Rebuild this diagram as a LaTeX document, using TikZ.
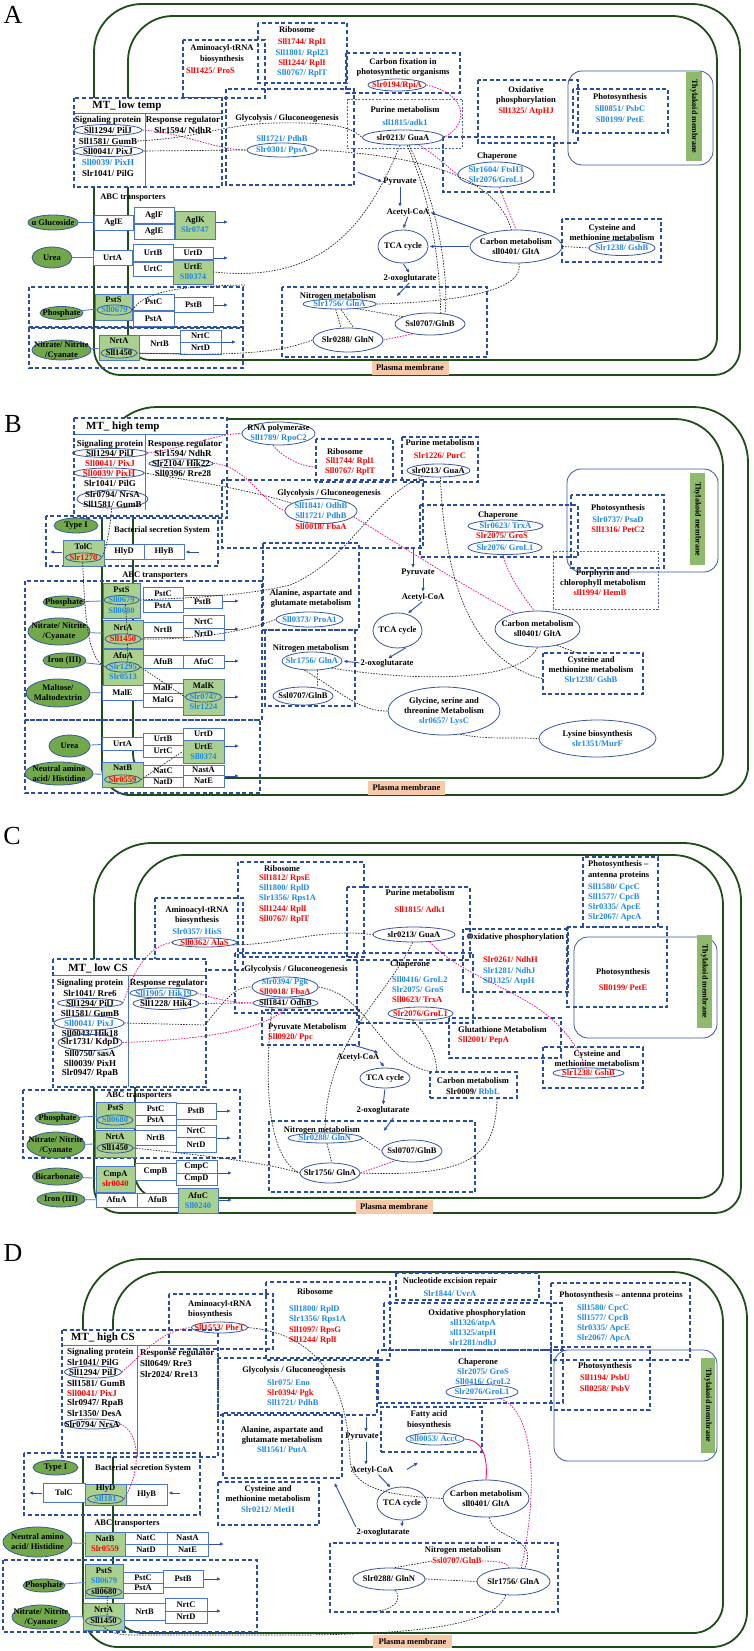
\documentclass[tikz,border=0pt]{standalone}
\usepackage{fontspec}
\setmainfont{Liberation Serif}
\usetikzlibrary{shapes.geometric,arrows.meta,calc}
\definecolor{dblue}{HTML}{2C4E9E}
\definecolor{tblue}{HTML}{4A78C4}
\definecolor{eblue}{HTML}{3A589C}
\definecolor{btxt}{HTML}{1E88E5}
\definecolor{rtxt}{HTML}{FF0000}
\definecolor{memg}{HTML}{1F4D1A}
\definecolor{ellg}{HTML}{70A84A}
\definecolor{boxg}{HTML}{A9D08E}
\definecolor{pinkc}{HTML}{E4198C}
\definecolor{peach}{HTML}{F8C9A8}
\definecolor{thyg}{HTML}{8DBA6C}
\definecolor{ablue}{HTML}{2F4FA8}
\newcommand\fsz{\bfseries\fontsize{8.5}{10}\selectfont}
\newcommand\fszL{\bfseries\fontsize{9}{10}\selectfont}
\newcommand\Bl[1]{\textcolor{btxt}{#1}}
\newcommand\Rd[1]{\textcolor{rtxt}{#1}}
\newcounter{nc}
\newcommand\T[3][]{\stepcounter{nc}\node[tx,#1] (t\arabic{nc}) at (#2) {#3};}
\newcommand\El[6][el]{\node[#1,minimum width=#4,minimum height=#5] (#2) at (#3) {};\node[tx] (#2t) at (#3) {#6};}
\newcommand\Bx[6][tb]{\node[#1,minimum width=#4,minimum height=#5] (#2) at (#3) {#6};}
\tikzset{
 tx/.style={font=\fsz, inner sep=0pt, text=black, align=center},
 db/.style={draw=dblue, line width=1.3pt, dash pattern=on 4pt off 2.6pt},
 dbt/.style={draw=dblue!85, line width=0.8pt, dash pattern=on 2pt off 1.5pt},
 mtb/.style={db, fill=white},
 tb/.style={draw=tblue, fill=white, line width=0.8pt, inner sep=0pt, font=\fsz, align=center},
 gb/.style={tb, fill=boxg},
 el/.style={ellipse, draw=eblue, line width=0.8pt, inner sep=0pt},
 ge/.style={el, fill=ellg},
 mem/.style={draw=memg, line width=1.8pt},
 bd/.style={draw=black!85, line width=0.7pt, dash pattern=on 1.5pt off 1.3pt},
 pd/.style={draw=pinkc, line width=0.8pt, dash pattern=on 1.5pt off 1.3pt},
 ar/.style={draw=ablue, line width=0.9pt, -{Latex[length=4pt,width=3.5pt]}, shorten >=1pt, shorten <=1pt},
 pmb/.style={fill=peach, inner sep=0pt, minimum width=77, minimum height=14, font=\fsz},
 thy/.style={draw=eblue, line width=0.8pt, rounded corners=14},
 tbar/.style={fill=thyg, inner sep=0pt, rotate=-90, font=\bfseries\fontsize{8}{9}\selectfont},
 lnk/.style={draw=tblue, line width=0.8pt},
 ttl/.style={font=\bfseries\fontsize{11}{12}\selectfont, inner sep=0pt},
 plet/.style={font=\fontsize{26}{26}\selectfont, inner sep=0pt},
 mtsep/.style={draw=tblue, line width=0.8pt},
 big/.style={tx/.append style={font=\fszL}},
}
\begin{document}
\begin{tikzpicture}[x=1pt,y=-1pt]
\fill[white] (0,0) rectangle (754,1651);
\useasboundingbox (0,0) rectangle (754,1651);

%%%%%%%%%%%%%%%% PANEL A %%%%%%%%%%%%%%%%
\node[plet] (LA) at (13,15) {A};
\draw[mem, rounded corners=48] (94,200) |- (740,4) -- (740,200);
\draw[mem, rounded corners=26] (94,200) |- (740,375) -- (740,200);
\draw[mem, rounded corners=45] (128,200) |- (717,16) -- (717,200);
\draw[mem, rounded corners=22] (128,200) |- (717,360) -- (717,200);
\node[pmb] (pmA) at (410,368) {Plasma membrane};
\draw[thy] (568,71) rectangle (713,165);
\node[tbar, minimum width=89, minimum height=16] (thA) at (694,116.5) {Thylakoid membrane};
\draw[db] (573,89) rectangle (668,133);
\T{620,97}{Photosynthesis}
\T{620,109}{\Bl{Sll0851/ PsbC}}
\T{620,120}{\Bl{Sll0199/ PetE}}
\draw[db] (478,80) rectangle (578,143);
\T{526,90}{Oxidative}
\T{526,100}{phosphorylation}
\T{526,111}{\Rd{Sll1325/ AtpHJ}}
\draw[db] (443,137) rectangle (554,192);
\T{497,156}{Chaperone}
\El{aChap}{496,174.5}{76}{25}{\Bl{Slr1604/ FtsH3}\\\Bl{Slr2076/GroL1}}
\El{aCarb}{516,246.5}{92}{33}{Carbon metabolism\\sll0401/ GltA}
\draw[db] (562,219) rectangle (661,262);
\T{612,228}{Cysteine and}
\T{612,238}{methionine metabolism}
\El{aGshB}{622,248}{66}{15}{\Bl{Slr1238/ GshB}}
\draw[db] (346,53) rectangle (460,93);
\T{403,62}{Carbon fixation in}
\T{403,72}{photosynthetic organisms}
\El{aRpiA}{397,85}{58}{12}{\Rd{Slr0194/RpiA}}
\draw[db] (258,23) rectangle (347,83);
\T{297,30}{Ribosome}
\T{302,42}{\Rd{Sll1744/ Rpl1}}
\T{302,53}{\Bl{Sll1801/ Rpl23}}
\T{302,63}{\Rd{Sll1244/ RplI}}
\T{302,73}{\Bl{Sll0767/ RplT}}
\draw[db] (183,40) rectangle (265,98);
\T{222,48}{Aminoacyl-tRNA}
\T{222,59}{biosynthesis}
\T[anchor=west]{186,71}{\Rd{Sll1425/ ProS}}
\draw[db] (226,89) rectangle (354,185);
\T{287,118}{Glycolysis / Gluconeogenesis}
\T{282,139}{\Bl{Sll1721/ PdhB}}
\El{aPpsA}{282,150}{70}{14}{\Bl{Slr0301/ PpsA}}
\draw[dbt] (347,99) rectangle (462,148);
\T{405,110}{Purine metabolism}
\T{405,123}{\Bl{sll1815/adk1}}
\El{aGuaA}{403,137.5}{81}{15}{slr0213/ GuaA}
% MT box
\draw[mtb] (74,98) rectangle (222,187);
\node[ttl] (aMT) at (127,106) {MT\_ low temp};
\draw[mtsep] (75,113) -- (221,113);
\draw[mtsep] (145,113) -- (145,187);
\begin{scope}[big]
\T{108,120}{Signaling protein}
\El{aPilJ}{108,130}{68}{11}{Sll1294/ PilJ}
\node[tx] (aGumB) at (108,141) {Sll1581/ GumB};
\El{aPixJ}{108,151}{70}{11}{Sll0041/ PixJ}
\T{108,162}{\Bl{Sll0039/ PixH}}
\T{108,173}{Slr1041/ PilG}
\T{183,120}{Response regulator}
\T{183,130}{Slr1594/ NdhR}
\end{scope}
% transporters
\T{133,198}{ABC transporters}
\El[ge]{aGlc}{53,222.5}{50}{15}{α Glucoside}
\Bx{aAglE}{113.5,222.5}{39}{15}{AglE}
\Bx{aAglF}{154,215}{40}{16}{AglF}
\Bx{aAglE2}{154,231.5}{40}{15}{AglE}
\Bx[gb]{aAglK}{195,225}{40}{28}{AglK\\\Bl{Slr0747}}
\draw[lnk] (aGlc) -- (aAglE);
\coordinate (aAo1) at (229,222); \draw[ar] (aAglK.east |- aAo1) -- (aAo1);
\El[ge]{aUrea}{52,257.5}{40}{21}{Urea}
\Bx{aUrtA}{112.5,257.5}{39}{15}{UrtA}
\Bx{aUrtB}{153,252.5}{40}{17}{UrtB}
\Bx{aUrtC}{153,269}{40}{14}{UrtC}
\Bx{aUrtD}{193,253}{40}{12}{UrtD}
\Bx[gb]{aUrtE}{193,272}{40}{24}{UrtE\\\Bl{Sll0374}}
\draw[lnk] (aUrea) -- (aUrtA);
\coordinate (aAo2) at (229,258); \draw[ar] (aUrtD.east |- aAo2) -- (aAo2);
\draw[db] (29,287) rectangle (243,327);
\El[ge]{aPho}{61.5,313}{43}{13}{Phosphate}
\Bx[gb]{aPstS}{113.5,307}{37}{26}{}
\T{113.5,300}{PstS}
\El{aPstSe}{114.5,310}{35}{10}{\Bl{Sll0679}}
\Bx{aPstC}{153.5,302}{41}{16}{PstC}
\Bx{aPstA}{153.5,318.5}{41}{15}{PstA}
\Bx{aPstB}{193.5,304.5}{39}{15}{PstB}
\draw[lnk] (aPho) -- (aPstS);
\coordinate (aAo3) at (229,305); \draw[ar] (aPstB.east |- aAo3) -- (aAo3);
\draw[db] (29,328) rectangle (243,368);
\El[ge]{aNit}{61.5,350}{59}{20}{Nitrate/ Nitrite\\/Cyanate}
\Bx[gb]{aNrtA}{119,347.5}{40}{25}{}
\T{119,341}{NrtA}
\El{aNrtAe}{119,353}{36}{10}{Sll1450}
\Bx{aNrtB}{159.5,344}{41}{18}{NrtB}
\Bx{aNrtC}{200.5,336}{41}{12}{NrtC}
\Bx{aNrtD}{200.5,348}{41}{12}{NrtD}
\draw[lnk] (aNit) -- (aNrtA);
\coordinate (aAo4) at (237,342); \draw[ar] (aNrtC.east |- aAo4) -- (aAo4);
% nitrogen
\draw[db] (282,287) rectangle (487,357);
\T{338,296}{Nitrogen metabolism}
\El{aGlnA}{339.5,304}{73}{10}{\Bl{Slr1756/ GlnA}}
\El{aGlnB}{430,324}{70}{22}{Ssl0707/GlnB}
\El{aGlnN}{348,340}{70}{24}{Slr0288/ GlnN}
% center
\node[tx] (aPyr) at (400,182) {Pyruvate};
\node[tx] (aAcc) at (408,212) {Acetyl-CoA};
\El{aTCA}{403,246.5}{50}{33}{TCA cycle}
\node[tx] (aOxo) at (410,278) {2-oxoglutarate};
\coordinate (aGlyO) at (357,172);
\draw[ar] (aGlyO) -- (aPyr.west);
\draw[ar] (aPyr.south) -- (aPyr.south |- aAcc.north);
\draw[ar] (aAcc.south) -- (aTCA.north);
\draw[ar] (aTCA.south) -- (aOxo.north);
\coordinate (aNin) at (396,297);
\draw[ar] (aOxo.south) -- (aNin);
\draw[ar] (aCarb.west) -- (aTCA.east);
\draw[ar] (aCarb.155) -- (aAcc.east);
% connectors
\draw[pd] (aPilJ.east) .. controls (185,133) and (215,150) .. (aPpsA.west);
\draw[bd] (aPixJ.east) -- (aPpsA.west);
\draw[bd] (aGumB.east) .. controls (200,138) and (225,124) .. (275,123) .. controls (330,122) and (350,126) .. (aGuaA.west);
\draw[bd] (aPpsA.east) .. controls (420,156) and (495,175) .. (aCarb.105);
\draw[pd] (aRpiA.east) .. controls (470,95) and (468,125) .. (aGuaA.east);
\draw[pd] (aGuaA.-25) .. controls (440,158) and (448,168) .. (aChap.west);
\draw[pd] (aChap.-75) -- (aCarb.north);
\draw[bd] (aGuaA.-110) .. controls (365,230) and (320,283) .. (aUrtE.east);
\coordinate (aJ1) at (245,285);
\draw[bd] (aPstSe.east) .. controls (145,290) and (185,286) .. (aJ1);
\draw[bd] (aGuaA.-62) .. controls (440,220) and (440,300) .. (aGlnB.45);
\draw[bd] (aGuaA.-52) .. controls (446,220) and (448,300) .. (aGlnB.35);
\draw[bd] (aGlnA.east) .. controls (460,302) and (525,290) .. (aCarb.-80);
\draw[bd] (aCarb.east) -- (aGshB.west);
\draw[bd] (aGlnA.-15) -- (aGlnB.165);
\draw[pd] (aGlnN.east) -- (aGlnB.-150);
\draw[bd] (aGlnA.-125) -- (aGlnN.120);
\draw[bd] (aGlnA.-75) -- (aGlnN.65);
\draw[bd] (aGlnN.west) .. controls (285,350) and (255,357) .. (aNrtAe.east);

%%%%%%%%%%%%%%%% PANEL B %%%%%%%%%%%%%%%%
\node[plet] (LB) at (13,424) {B};
\draw[mem, rounded corners=55] (102,600) |- (748,407) -- (748,600);
\draw[mem, rounded corners=28] (102,600) |- (748,795) -- (748,600);
\draw[mem, rounded corners=48] (133,600) |- (723,419) -- (723,600);
\draw[mem, rounded corners=24] (133,600) |- (723,778) -- (723,600);
\node[pmb] (pmB) at (406.5,787.5) {Plasma membrane};
\draw[thy] (567,469) rectangle (718,572);
\node[tbar, minimum width=92, minimum height=15] (thB) at (697.5,519) {Thylakoid membrane};
\draw[db] (571,495) rectangle (664,568);
\T{618,508}{Photosynthesis}
\T{618,520}{\Bl{Slr0737/ PsaD}}
\T{618,530}{\Rd{Sll1316/ PetC2}}
\draw[dbt] (553,551) rectangle (658,609);
\T{603,573}{Porphyrin and}
\T{603,583}{chlorophyll metabolism}
\T{600,593}{\Rd{sll1994/ HemB}}
\draw[db] (420,505) rectangle (578,557);
\T{498,515}{Chaperone}
\El{bTrx}{505.5,526}{75}{12}{\Bl{Slr0623/ TrxA}}
\T{502,536}{\Rd{Slr2075/ GroS}}
\El{bGroL}{505,547.5}{74}{14}{\Bl{Slr2076/ GroL1}}
\draw[db] (402,437) rectangle (478,482);
\T{440,443}{Purine metabolism}
\T{440,456}{\Rd{Slr1226/ PurC}}
\El{bGuaA}{438.5,470.5}{63}{13}{slr0213/ GuaA}
\draw[db] (316,439) rectangle (393,482);
\T{345,452}{Ribosome}
\T{350,461}{\Rd{Sll1744/ Rpl1}}
\T{350,471}{\Rd{Sll0767/ RplT}}
\El{bRNA}{278.5,433.5}{73}{23}{RNA polymerase\\\Bl{Sll1789/ RpoC2}}
% MT box
\draw[mtb] (74,418) rectangle (227,518);
\node[ttl, anchor=west] (bMT) at (86,427) {MT\_ high temp};
\draw[mtsep] (75,434) -- (226,434);
\draw[mtsep] (145,434) -- (145,510);
\begin{scope}[big]
\T{110,444}{Signaling protein}
\El{bPilJ}{110,453}{75}{9}{Sll1294/ PilJ}
\T{110,463}{\Rd{Sll0041/ PixJ}}
\El{bPixH}{109,473}{70}{10}{\Rd{Sll0039/ PixH}}
\T{110,483}{Slr1041/ PilG}
\El{bNrs}{112.5,499}{71}{18}{Slr0794/ NrsA\\Sll1581/ GumB}
\T{185,444}{Response regulator}
\T{183,453}{Slr1594/ NdhR}
\El{bHik}{181,463.5}{64}{9}{Slr2104/ Hik22}
\T{183,473}{Sll0396/ Rre28}
\end{scope}
\draw[db] (222,480) rectangle (423,548);
\T{329,493}{Glycolysis / Gluconeogenesis}
\El{bGly}{321,511}{72}{25}{\Bl{Sll1841/ OdhB}\\\Bl{Sll1721/ PdhB}}
\T{321,527}{\Rd{Sll0018/ FbaA}}
% secretion
\draw[db] (46,516) rectangle (218,566);
\El[ge]{bType}{76,525.5}{44}{15}{Type I}
\T{162,530}{Bacterial secretion System}
\Bx[gb]{bTolC}{83.5,553}{41}{26}{}
\T{83.5,547}{TolC}
\El{bTolCe}{83.5,557.5}{36}{9}{\Rd{Slr1270}}
\Bx{bHlyD}{124,551.5}{40}{15}{HlyD}
\Bx{bHlyB}{164,551.5}{40}{15}{HlyB}
\coordinate (bTo) at (49,552); \draw[ar] (bTolC.west |- bTo) -- (bTo);
\coordinate (bHi) at (200,552); \draw[ar] (bHi) -- (bHlyB.east |- bHi);
% ABC
\draw[db] (25,581) rectangle (262,720);
\T{155,576}{ABC transporters}
\El[ge]{bPho}{64,602}{42}{12}{Phosphate}
\Bx[gb]{bPstS}{121.5,600.5}{37}{35}{}
\T{121.5,590}{PstS}
\El{bPstSe}{121.5,600}{35}{9}{\Bl{Sll0679}}
\T{121.5,611}{\Bl{Sll0680}}
\Bx{bPstC}{163,593.5}{40}{13}{PstC}
\Bx{bPstA}{163,606}{40}{12}{PstA}
\Bx{bPstB}{202.5,601.5}{39}{13}{PstB}
\draw[lnk] (bPho) -- (bPstS);
\coordinate (bAo1) at (240,601); \draw[ar] (bPstB.east |- bAo1) -- (bAo1);
\El[ge]{bNit}{59,631.5}{62}{27}{Nitrate/ Nitrite\\/Cyanate}
\Bx[gb]{bNrtA}{123,634}{40}{28}{}
\T{123,628}{NrtA}
\El{bNrtAe}{123,639}{36}{10}{\Rd{Sll1450}}
\Bx{bNrtB}{163,629.5}{40}{15}{NrtB}
\Bx{bNrtC}{203.5,621.5}{41}{13}{NrtC}
\Bx{bNrtD}{203.5,634}{41}{12}{NrtD}
\draw[lnk] (bNit) -- (bNrtA);
\coordinate (bAo2) at (240,629); \draw[ar] (bNrtC.east |- bAo2) -- (bAo2);
\El[ge]{bIron}{64.5,660.5}{43}{15}{Iron (III)}
\Bx[gb]{bAfuA}{123,667}{40}{36}{}
\T{123,656}{AfuA}
\El{bAfuAe}{123,667}{34}{10}{\Bl{Slr1295}}
\T{123,677}{\Bl{Slr0513}}
\Bx{bAfuB}{163,661.5}{40}{13}{AfuB}
\Bx{bAfuC}{203.5,661.5}{41}{13}{AfuC}
\draw[lnk] (bIron) -- (bAfuA);
\coordinate (bAo3) at (240,661); \draw[ar] (bAfuC.east |- bAo3) -- (bAo3);
\El[ge]{bMal}{58,693}{64}{28}{Maltose/\\Maltodextrin}
\Bx{bMalE}{122.5,692.5}{41}{15}{MalE}
\Bx{bMalF}{163,688}{40}{10}{MalF}
\Bx{bMalG}{163,700}{40}{14}{MalG}
\Bx[gb]{bMalK}{203.5,697}{41}{36}{}
\T{203.5,686}{MalK}
\El{bMalKe}{203.5,697}{36}{10}{\Bl{Slr0747}}
\T{203.5,707}{\Bl{Slr1224}}
\draw[lnk] (bMal) -- (bMalE);
\coordinate (bAo4) at (240,697); \draw[ar] (bMalK.east |- bAo4) -- (bAo4);
\draw[db] (25,720) rectangle (260,793);
\El[ge]{bUrea}{69.5,746}{41}{22}{Urea}
\Bx{bUrtA}{122.5,743.5}{41}{13}{UrtA}
\Bx{bUrtB}{163,739}{40}{12}{UrtB}
\Bx{bUrtC}{163,751}{40}{12}{UrtC}
\Bx{bUrtD}{203.5,734}{41}{12}{UrtD}
\Bx[gb]{bUrtE}{203.5,751.5}{41}{23}{UrtE\\\Bl{Sll0374}}
\draw[lnk] (bUrea) -- (bUrtA);
\coordinate (bAo5) at (240,746); \draw[ar] (bUrtE.east |- bAo5) -- (bAo5);
\El[ge]{bNeu}{59,773.5}{68}{23}{Neutral amino\\acid/ Histidine}
\Bx[gb]{bNatB}{122.5,774.5}{41}{25}{}
\T{122.5,768}{NatB}
\El{bNatBe}{122.5,779.5}{36}{9}{\Rd{Slr0559}}
\Bx{bNatD}{163,782}{40}{10}{NatD}
\Bx{bNatC}{163,771}{40}{12}{NatC}
\Bx{bNastA}{203.5,770}{41}{10}{NastA}
\Bx{bNatE}{203.5,781}{41}{12}{NatE}
\draw[lnk] (bNeu) -- (bNatB);
\coordinate (bAo6) at (240,776); \draw[ar] (bNatE.east |- bAo6) -- (bAo6);
% alanine, nitrogen
\draw[db] (263,543) rectangle (359,630);
\T{311,593}{Alanine, aspartate and}
\T{311,603}{glutamate metabolism}
\El{bProA}{309.5,619.5}{67}{15}{\Bl{Sll0373/ ProA1}}
\draw[db] (265,630) rectangle (355,706);
\T{311,648}{Nitrogen metabolism}
\El{bGlnA}{312,661}{60}{18}{\Bl{Slr1756/ GlnA}}
\El{bGlnB}{303,696}{60}{18}{Ssl0707/GlnB}
% center
\node[tx] (bPyr) at (418,573) {Pyruvate};
\node[tx] (bAcc) at (423,597) {Acetyl-CoA};
\El{bTCA}{397.5,630.5}{49}{35}{TCA cycle}
\node[tx] (bOxo) at (387,663) {2-oxoglutarate};
\coordinate (bGlyO) at (413,546);
\draw[ar] (bGlyO) -- (bGlyO |- bPyr.north);
\draw[ar] (bAcc.north |- bPyr.south) -- (bAcc.north);
\draw[ar] (bAcc.south) -- (bTCA.60);
\draw[ar] (bTCA.-60) -- (bOxo.north);
\draw[ar] (bOxo.west) -- (bGlnA.east);
\El{bGlyc}{444,711}{112}{48}{Glycine, serine and\\threonine Metabolism\\\Bl{slr0657/ LysC}}
\El{bLys}{597.5,738.5}{117}{37}{Lysine biosynthesis\\\Bl{slr1351/MurF}}
\El{bCarb}{537.5,629}{85}{36}{Carbon metabolism\\sll0401/ GltA}
\draw[db] (543,653) rectangle (643,694);
\T{591,660}{Cysteine and}
\T{591,670}{methionine metabolism}
\T{591,680}{\Bl{Slr1238/ GshB}}
% connectors
\draw[pd] (bPilJ.east) .. controls (190,447) and (215,434) .. (bRNA.west);
\coordinate (bRibL) at (316,467);
\draw[pd] (bRNA.-115) .. controls (280,455) and (300,467) .. (bRibL);
\draw[pd] (bHik.east) .. controls (245,465) and (260,500) .. (bGly.west);
\draw[pd] (bGly.-10) .. controls (400,545) and (470,590) .. (bCarb.145);
\draw[pd] (bGroL.-105) .. controls (508,575) and (522,595) .. (bCarb.100);
\draw[pd] (bGlnA.-60) -- (bGlnA.-60 |- bGlnB.north);
\draw[bd] (bPixH.east) .. controls (190,480) and (250,490) .. (bGly.165);
\draw[bd] (bGuaA.-160) .. controls (370,500) and (350,560) .. (290,585) .. controls (240,597) and (180,598) .. (bPstSe.east);
\coordinate (bCysL) at (543,679);
\draw[bd] (bGuaA.-75) .. controls (445,580) and (470,660) .. (bCysL);
\draw[bd] (bGlnA.-20) .. controls (420,682) and (520,682) .. (bCarb.-90);
\coordinate (bCysT) at (578,653);
\draw[bd] (bCarb.-40) -- (bCysT);
\draw[bd] (bGlnA.-130) .. controls (338,690) and (360,712) .. (bGlyc.west);
\draw[bd] (bGlyc.-55) .. controls (490,740) and (510,737) .. (bLys.west);
\draw[bd] (bNrtAe.east) .. controls (200,640) and (250,630) .. (bProA.west);
\draw[bd] (bNrs.-95) .. controls (110,530) and (106,550) .. (bTolCe.east);
\draw[bd] (bTolCe.-100) .. controls (85,620) and (88,660) .. (bAfuAe.west);
\draw[bd] (bAfuAe.east) -- (bMalKe.west);
\draw[bd] (bPstSe.-50) -- (bNrtAe.50);
\draw[bd] (bNrtAe.-50) -- (bAfuAe.50);
\draw[bd] (bNatBe.east) -- (bUrtE.west);

%%%%%%%%%%%%%%%% PANEL C %%%%%%%%%%%%%%%%
\node[plet] (LC) at (12,836) {C};
\draw[mem, rounded corners=58] (94,1000) |- (741,843) -- (741,1000);
\draw[mem, rounded corners=26] (94,1000) |- (741,1213) -- (741,1000);
\draw[mem, rounded corners=50] (135,1000) |- (723,855) -- (723,1000);
\draw[mem, rounded corners=24] (135,1000) |- (723,1198) -- (723,1000);
\node[pmb] (pmC) at (394,1207) {Plasma membrane};
\draw[thy] (574,937) rectangle (717,1038);
\node[tbar, minimum width=93, minimum height=15] (thC) at (704.5,981.5) {Thylakoid membrane};
\draw[db] (567,927) rectangle (667,1007);
\T{623,972}{Photosynthesis}
\T{623,988}{\Rd{Sll0199/ PetE}}
\draw[db] (583,857) rectangle (658,927);
\T[anchor=west]{588,864}{Photosynthesis –}
\T[anchor=west]{588,875}{antenna proteins}
\T[anchor=west]{588,887}{\Bl{Sll1580/ CpcC}}
\T[anchor=west]{588,897}{\Bl{Sll1577/ CpcB}}
\T[anchor=west]{588,907}{\Bl{Slr0335/ ApcE}}
\T[anchor=west]{588,917}{\Bl{Slr2067/ ApcA}}
\draw[db] (463,929) rectangle (568,992);
\T{515.5,937}{Oxidative phosphorylation}
\T[anchor=west]{483,960}{\Rd{Slr0261/ NdhH}}
\T[anchor=west]{483,971}{\Bl{Slr1281/ NdhJ}}
\T[anchor=west]{483,981}{\Bl{Sll1325/ AtpH}}
\draw[db] (347,887) rectangle (470,960);
\T{420,893}{Purine metabolism}
\T{420,910}{\Rd{Sll1815/ Adk1}}
\El{cGuaA}{414,934.5}{82}{15}{slr0213/ GuaA}
\draw[db] (238,862) rectangle (364,957);
\T{282,869}{Ribosome}
\T[anchor=west]{259,878}{\Rd{Sll1812/ RpsE}}
\T[anchor=west]{259,888}{\Bl{Sll1800/ RplD}}
\T[anchor=west]{259,898}{\Bl{Slr1356/ Rps1A}}
\T[anchor=west]{259,909}{\Rd{Sll1244/ RplI}}
\T[anchor=west]{259,919}{\Rd{Sll0767/ RplT}}
\draw[db] (155,898) rectangle (243,970);
\T{197,910}{Aminoacyl-tRNA}
\T{197,920}{biosynthesis}
\T{197,932}{\Bl{Slr0357/ HisS}}
\El{cAla}{204.5,942.5}{65}{9}{\Rd{Sll0362/ AlaS}}
\draw[db] (235,953) rectangle (357,1013);
\T{296,969}{Glycolysis / Gluconeogenesis}
\El{cPgk}{285,987}{66}{20}{\Bl{Slr0394/ Pgk}\\\Rd{Sll0018/ FbaA}}
\El{cOdh}{285.5,1003}{65}{10}{Sll1841/ OdhB}
\draw[db] (262,1010) rectangle (359,1045);
\T[anchor=west]{268,1027}{Pyruvate Metabolism}
\T[anchor=west]{268,1037}{\Rd{Sll0920/ Ppc}}
\draw[db] (357,953) rectangle (473,1023);
\T{410,964}{Chaperone}
\T[anchor=west]{392,980}{\Bl{Sll0416/ GroL2}}
\T[anchor=west]{392,990}{\Bl{Slr2075/ GroS}}
\T[anchor=west]{392,1000}{\Rd{Sll0623/ TrxA}}
\El{cGroL}{420.5,1013.5}{65}{13}{\Rd{Slr2076/GroL1}}
\draw[db] (449,1018) rectangle (561,1058);
\T[anchor=west]{458,1030}{Glutathione Metabolism}
\T[anchor=west]{458,1040}{\Rd{Sll2001/ PepA}}
\node[db, minimum width=87, minimum height=26, inner sep=0pt] (cCarb) at (473.5,1085) {};
\T{473,1081}{Carbon metabolism}
\T{473,1092}{Slr0009/ \Bl{RbbL}}
\draw[db] (543,1047) rectangle (643,1088);
\T{597,1054}{Cysteine and}
\T{597,1064}{methionine metabolism}
\El{cGsh}{588.5,1073}{71}{10}{\Rd{Slr1238/ GshB}}
\node[tx] (cAcc) at (358,1057) {Acetyl-CoA};
\El{cTCA}{385,1078}{50}{20}{TCA cycle}
\node[tx] (cOxo) at (383,1110) {2-oxoglutarate};
\draw[db] (269,1121) rectangle (475,1192);
\T{322,1130}{Nitrogen metabolism}
\El{cGlnN}{325,1138}{74}{10}{\Bl{Slr0288/ GlnN}}
\El{cGlnB}{412,1151}{60}{22}{Ssl0707/GlnB}
\El{cGlnA}{330,1173}{60}{20}{Slr1756/ GlnA}
% MT
\draw[mtb] (53,959) rectangle (206,1087);
\node[ttl] (cMT) at (98,968) {MT\_ low CS};
\draw[mtsep] (54,975) -- (205,975);
\draw[mtsep] (128,975) -- (128,1087);
\begin{scope}[big]
\T{90,983}{Signaling protein}
\T{90,993}{Slr1041/ Rre6}
\El{cPilJ}{90,1003}{65}{9}{Sll1294/ PilJ}
\T{90,1013}{Sll1581/ GumB}
\El{cPixJ}{89,1023}{70}{14}{\Bl{Sll0041/ PixJ}}
\T{90,1033}{Sll0043/ Hik18}
\El{cKdp}{90,1042.5}{64}{16}{Slr1731/ KdpD}
\T{90,1053}{Sll0750/ sasA}
\T{90,1063}{Sll0039/ PixH}
\T{90,1073}{Slr0947/ RpaB}
\T{167,983}{Response regulator}
\El{cHik19}{163.5,993}{67}{10}{\Bl{Sll1905/ Hik19}}
\El{cHik4}{166,1003.5}{66}{12}{Sll1228/ Hik4}
\end{scope}
% ABC
\draw[db] (23,1090) rectangle (240,1158);
\T{139,1096}{ABC transporters}
\El[ge]{cPho}{57.5,1118.5}{45}{13}{Phosphate}
\Bx[gb]{cPstS}{115.5,1115}{39}{26}{}
\T{115.5,1108}{PstS}
\El{cPstSe}{115,1120}{36}{10}{\Bl{Sll0680}}
\Bx{cPstA}{155.5,1120}{41}{11}{PstA}
\Bx{cPstC}{155.5,1108.5}{41}{13}{PstC}
\Bx{cPstB}{196,1111}{40}{16}{PstB}
\draw[lnk] (cPho) -- (cPstS);
\coordinate (cAo1) at (232,1111); \draw[ar] (cPstB.east |- cAo1) -- (cAo1);
\El[ge]{cNit}{56,1145}{58}{26}{Nitrate/ Nitrite\\/Cyanate}
\Bx[gb]{cNrtA}{115,1143.5}{40}{27}{}
\T{115,1137}{NrtA}
\El{cNrtAe}{115,1148}{36}{10}{Sll1450}
\Bx{cNrtB}{155.5,1137.5}{41}{15}{NrtB}
\Bx{cNrtC}{196,1131}{40}{12}{NrtC}
\Bx{cNrtD}{196,1144.5}{40}{15}{NrtD}
\draw[lnk] (cNit) -- (cNrtA);
\coordinate (cAo2) at (232,1138); \draw[ar] (cNrtC.east |- cAo2) -- (cAo2);
\El[ge]{cBic}{57.5,1176.5}{50}{17}{Bicarbonate}
\Bx[gb]{cCmpA}{115.5,1179}{39}{26}{CmpA\\\Rd{slr0040}}
\Bx{cCmpB}{155.5,1171.5}{41}{17}{CmpB}
\Bx{cCmpD}{196.5,1179}{41}{12}{CmpD}
\Bx{cCmpC}{196.5,1166.5}{41}{13}{CmpC}
\draw[lnk] (cBic) -- (cCmpA);
\coordinate (cAo3) at (233,1173); \draw[ar] (cCmpC.east |- cAo3) -- (cAo3);
\El[ge]{cIron}{61,1199.5}{48}{15}{Iron (III)}
\Bx{cAfuA}{116.5,1200}{41}{14}{AfuA}
\Bx{cAfuB}{157.5,1200}{41}{14}{AfuB}
\Bx[gb]{cAfuC}{198,1200.5}{40}{25}{AfuC\\\Bl{Sll0240}}
\draw[lnk] (cIron) -- (cAfuA);
\coordinate (cAo4) at (233,1200); \draw[ar] (cAfuC.east |- cAo4) -- (cAo4);
% arrows
\coordinate (cPyO) at (350,1044);
\draw[ar] (cPyO) -- (cAcc.north east);
\draw[ar] (cAcc.south east) -- (cTCA.north);
\draw[ar] (cTCA.south) -- (cOxo.north);
\coordinate (cOxb) at (394,1117);
\coordinate (cNin) at (383,1132);
\draw[ar] (cOxb) -- (cNin);
% connectors
\draw[pd] (cPilJ.east) .. controls (130,985) and (140,948) .. (cAla.west);
\draw[bd] (cPixJ.east) -- (205,1025) .. controls (225,1000) and (235,986) .. (cPgk.west);
\draw[bd] (cAla.-5) .. controls (280,945) and (320,928) .. (cGuaA.west);
\draw[pd] (cHik19.east) .. controls (218,1000) and (236,1003) .. (cOdh.west);
\draw[pd] (cHik4.east) -- (cOdh.west);
\draw[pd] (cKdp.east) .. controls (200,1040) and (265,1030) .. (cOdh.south);
\draw[bd] (cOdh.-160) .. controls (262,1100) and (272,1160) .. (cGlnA.west);
\draw[bd] (cNrtAe.east) .. controls (200,1155) and (265,1162) .. (cGlnA.west);
\draw[bd] (cGuaA.-100) .. controls (385,1000) and (325,1040) .. (cGlnN.north);
\draw[bd] (cPgk.east) .. controls (370,995) and (378,1060) .. (cCarb.north west);
\coordinate (cCarbT) at (437,1072);
\draw[bd] (cGroL.-140) .. controls (432,1040) and (436,1058) .. (cCarbT);
\draw[bd] (cCarb.-30) .. controls (495,1150) and (480,1178) .. (cGlnA.east);
\draw[pd] (cGuaA.-25) .. controls (475,990) and (555,990) .. (cGsh.115);
\draw[bd] (cGlnN.east) -- (cGlnB.west);
\draw[pd] (cGlnA.east) -- (cGlnB.-150);
\draw[bd] (cGlnN.-70) -- (cGlnA.80);

%%%%%%%%%%%%%%%% PANEL D %%%%%%%%%%%%%%%%
\node[plet] (LD) at (13,1253) {D};
\draw[mem, rounded corners=60] (83,1450) |- (747,1259) -- (747,1450);
\draw[mem, rounded corners=35] (83,1450) |- (747,1647) -- (747,1450);
\draw[mem, rounded corners=50] (113,1450) |- (723,1272) -- (723,1450);
\draw[mem, rounded corners=30] (113,1450) |- (723,1633) -- (723,1450);
\node[pmb, minimum width=79, minimum height=13] (pmD) at (412.5,1641.5) {Plasma membrane};
\draw[thy] (554,1350) rectangle (717,1461);
\node[tbar, minimum width=95, minimum height=14] (thD) at (708,1405.5) {Thylakoid membrane};
\draw[db] (551,1283) rectangle (690,1360);
\T{621,1295}{Photosynthesis – antenna proteins}
\T[anchor=west]{577,1308}{\Bl{Sll1580/ CpcC}}
\T[anchor=west]{577,1318}{\Bl{Sll1577/ CpcB}}
\T[anchor=west]{577,1328}{\Bl{Slr0335/ ApcE}}
\T[anchor=west]{577,1338}{\Bl{Slr2067/ ApcA}}
\draw[db] (551,1347) rectangle (650,1410);
\T{605,1366}{Photosynthesis}
\T{605,1378}{\Rd{Sll1194/ PsbU}}
\T{605,1389}{\Rd{Sll0258/ PsbV}}
\draw[db] (396,1273) rectangle (539,1300);
\T{450,1281}{Nucleotide excision repair}
\T{450,1294}{\Bl{Slr1844/ UvrA}}
\draw[db] (384,1303) rectangle (562,1350);
\T{477,1313}{Oxidative phosphorylation}
\T{473,1323}{\Bl{sll1326/atpA}}
\T{473,1333}{\Bl{sll1325/atpH}}
\T{473,1343}{\Bl{slr1281/ndhJ}}
\draw[db] (378,1350) rectangle (563,1403);
\T{478,1362}{Chaperone}
\T{483,1372}{\Bl{Slr2075/ GroS}}
\T{483,1382}{\Bl{Sll0416/ GroL2}}
\El{dGroL}{482,1392}{72}{15}{\Bl{Slr2076/GroL1}}
\draw[db] (266,1282) rectangle (390,1360);
\T{315,1292}{Ribosome}
\T[anchor=west]{289,1309}{\Bl{Sll1800/ RplD}}
\T[anchor=west]{289,1319}{\Bl{Slr1356/ Rps1A}}
\T[anchor=west]{289,1330}{\Rd{Sll1097/ RpsG}}
\T[anchor=west]{289,1340}{\Rd{Sll1244/ RplI}}
% MT
\draw[mtb] (62,1330) rectangle (218,1457);
\node[ttl, anchor=west] (dMT) at (71,1338) {MT\_ high CS};
\draw[mtsep] (63,1345) -- (217,1345);
\draw[mtsep] (137,1345) -- (137,1457);
\begin{scope}[big]
\T[anchor=west]{67,1352}{Signaling protein}
\T[anchor=west]{67,1362}{Slr1041/ PilG}
\El{dPilJ}{93,1372}{57}{12}{Sll1294/ PilJ}
\T[anchor=west]{67,1383}{Sll1581/ GumB}
\T[anchor=west]{67,1393}{\Rd{Sll0041/ PixJ}}
\T[anchor=west]{67,1403}{Slr0947/ RpaB}
\T[anchor=west]{67,1413}{Slr1350/ DesA}
\El{dNrs}{92,1424}{56}{10}{Slr0794/ NrsA}
\T[anchor=west]{140,1353}{Response regulator}
\T[anchor=west]{140,1363}{Sll0649/ Rre3}
\T[anchor=west]{140,1374}{Slr2024/ Rre13}
\end{scope}
\draw[db] (169,1294) rectangle (273,1349);
\T[anchor=west]{188,1304}{Aminoacyl-tRNA}
\T[anchor=west]{188,1314}{biosynthesis}
\El{dPhe}{219.5,1327.5}{56}{11}{\Rd{Sll1553/ PheT}}
\draw[db] (218,1358) rectangle (377,1415);
\T{294,1370}{Glycolysis / Gluconeogenesis}
\T[anchor=west]{267,1383}{\Bl{Slr075/ Eno}}
\T[anchor=west]{267,1393}{\Rd{Slr0394/ Pgk}}
\T[anchor=west]{267,1403}{\Bl{Sll1721/ PdhB}}
\draw[db] (223,1413) rectangle (342,1478);
\T{282,1430}{Alanine, aspartate and}
\T{282,1440}{glutamate metabolism}
\T{282,1450}{\Bl{Sll1561/ PutA}}
\draw[db] (218,1482) rectangle (319,1525);
\T{268,1489}{Cysteine and}
\T{268,1499}{methionine metabolism}
\T{268,1510}{\Bl{Slr0212/ MetH}}
\node[db, minimum width=101, minimum height=45, inner sep=0pt] (dFat) at (431.5,1429.5) {};
\T{429,1414}{Fatty acid}
\T{429,1425}{biosynthesis}
\El{dAcc}{435,1439}{58}{12}{\Bl{Sll0053/ AccC}}
\node[tx] (dPyr) at (362,1437) {Pyruvate};
\node[tx] (dAcet) at (372,1470) {Acetyl-CoA};
\El{dTCA}{402,1503.5}{50}{33}{TCA cycle}
\node[tx] (dOxo) at (383,1532) {2-oxoglutarate};
\El{dCarb}{486,1498.5}{86}{37}{Carbon metabolism\\sll0401/ GltA}
\draw[db] (330,1543) rectangle (558,1612);
\T{463,1550}{Nitrogen metabolism}
\node[tx] (dGlnB) at (457,1561) {\Rd{Ssl0707/GlnB}};
\El{dGlnN}{389,1579}{72}{22}{Slr0288/ GlnN}
\El{dGlnA}{513.5,1581.5}{73}{27}{Slr1756/ GlnA}
% secretion
\draw[db] (24,1453) rectangle (200,1515);
\El[ge]{dType}{55.5,1467.5}{45}{15}{Type I}
\T{143,1468}{Bacterial secretion System}
\Bx{dTolC}{64,1492.5}{42}{19}{TolC}
\Bx[gb]{dHlyD}{105.5,1494.5}{41}{21}{}
\T{105.5,1488}{HlyD}
\El{dHlyDe}{105.5,1499}{36}{9}{\Bl{Sll181}}
\Bx{dHlyB}{146.5,1494.5}{41}{21}{HlyB}
\coordinate (dTo) at (28,1493); \draw[ar] (dTolC.west |- dTo) -- (dTo);
\coordinate (dHi) at (181,1493); \draw[ar] (dHi) -- (dHlyB.east |- dHi);
% ABC
\T{127,1524}{ABC transporters}
\El[ge]{dNeu}{37.5,1542}{69}{30}{Neutral amino\\acid/ Histidine}
\Bx[gb]{dNatB}{105,1544}{40}{24}{NatB\\\Rd{Slr0559}}
\Bx{dNatC}{146,1538}{42}{12}{NatC}
\Bx{dNatD}{146,1550}{42}{12}{NatD}
\Bx{dNastA}{187.5,1538}{41}{12}{NastA}
\Bx{dNatE}{187.5,1550}{41}{12}{NatE}
\draw[lnk] (dNeu) -- (dNatB);
\coordinate (dAo1) at (225,1544); \draw[ar] (dNastA.east |- dAo1) -- (dAo1);
\draw[db] (3,1560) rectangle (257,1632);
\El[ge]{dPho}{44,1585.5}{42}{13}{Phosphate}
\Bx[gb]{dPstS}{104,1581}{38}{34}{}
\T{104,1571}{PstS}
\T{104,1581}{\Bl{Sll0679}}
\El{dPstSe}{104,1592}{36}{9}{sll0680}
\Bx{dPstA}{143,1588}{40}{10}{PstA}
\Bx{dPstC}{143,1577.5}{40}{11}{PstC}
\Bx{dPstB}{183,1578.5}{40}{17}{PstB}
\draw[lnk] (dPho) -- (dPstS);
\coordinate (dAo2) at (222,1579); \draw[ar] (dPstB.east |- dAo2) -- (dAo2);
\El[ge]{dNit}{41,1617}{58}{24}{Nitrate/ Nitrite\\/Cyanate}
\Bx[gb]{dNrtA}{103.5,1616.5}{41}{27}{}
\T{103.5,1610}{NrtA}
\El{dNrtAe}{103.5,1621}{36}{10}{Sll1450}
\Bx{dNrtB}{144.5,1611.5}{41}{17}{NrtB}
\Bx{dNrtC}{186,1604.5}{42}{13}{NrtC}
\Bx{dNrtD}{186,1617}{42}{12}{NrtD}
\draw[lnk] (dNit) -- (dNrtA);
\coordinate (dAo3) at (222,1611); \draw[ar] (dNrtC.east |- dAo3) -- (dAo3);
% arrows
\coordinate (dGlyO) at (366,1416);
\draw[ar] (dGlyO) -- (dGlyO |- dPyr.north);
\draw[ar] (dPyr.south -| dGlyO) -- (dGlyO |- dAcet.north);
\draw[ar] (dAcet.-35) -- (dTCA.125);
\coordinate (dAF1) at (406,1470); \coordinate (dAF2) at (419,1462);
\draw[ar] (dAF1) -- (dAF2);
\draw[ar] (dTCA.south) -- (dOxo.north -| dTCA.south);
\coordinate (dAlaC) at (334,1482);
\draw[ar] (dOxo.north west) -- (dAlaC);
% connectors
\draw[pd] (dPilJ.east) .. controls (140,1357) and (160,1330) .. (dPhe.west);
\draw[pd] (dNrs.east) .. controls (140,1432) and (142,1470) .. (dHlyDe.east);
\draw[bd] (dPhe.east) .. controls (330,1335) and (348,1400) .. (350,1460) .. controls (352,1492) and (400,1496) .. (dCarb.west);
\draw[draw=pinkc, line width=0.9pt] (dAcc.east) .. controls (482,1440) and (488,1455) .. (dCarb.north);
\draw[pd] (dGroL.-20) .. controls (532,1410) and (540,1480) .. (dGlnA.60);
\draw[bd] (dCarb.-80) .. controls (492,1540) and (540,1535) .. (dGlnA.50);
\draw[pd] (dGlnB.east) .. controls (500,1561) and (508,1563) .. (dGlnA.110);
\draw[bd] (dGlnB.west) -- (dGlnN.65);
\draw[bd] (dGlnN.east) -- (dGlnA.west);
\coordinate (dNb) at (366,1612);
\draw[bd] (dGlnN.-60) .. controls (405,1605) and (385,1612) .. (dNb);
\draw[bd] (dGlnA.-120) .. controls (495,1625) and (420,1634) .. (300,1635) -- (130,1635) .. controls (115,1635) and (106,1630) .. (dNrtAe.south);
\draw[bd] (dPstSe.-55) -- (dNrtAe.55);
\end{tikzpicture}
\end{document}
